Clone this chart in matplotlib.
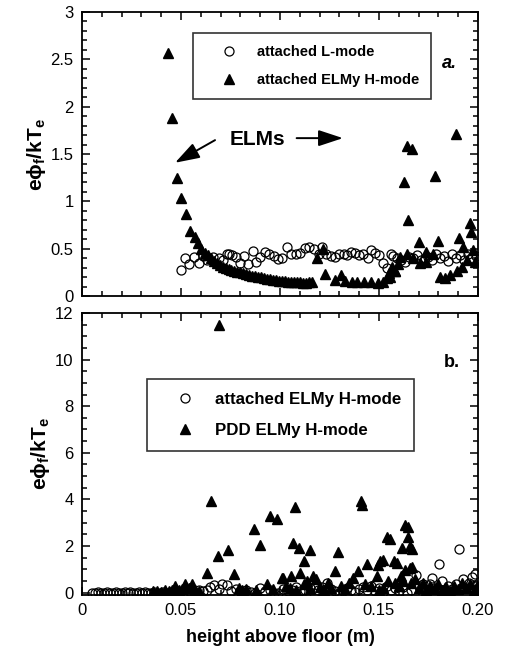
import numpy as np
import matplotlib
matplotlib.use("Agg")
import matplotlib.pyplot as plt
from matplotlib.ticker import MultipleLocator, FixedLocator, FixedFormatter

plt.rcParams['font.family'] = ['Liberation Sans', 'DejaVu Sans']
plt.rcParams['mathtext.fontset'] = 'custom'
plt.rcParams['mathtext.rm'] = 'Liberation Sans'
plt.rcParams['mathtext.bf'] = 'Liberation Sans:bold'
plt.rcParams['mathtext.it'] = 'Liberation Sans:italic'

# ---- panel a: attached L-mode (open circles)
a_circ_x = [0.050, 0.052, 0.054, 0.0565, 0.059, 0.061, 0.063, 0.066, 0.069, 0.071,
            0.073, 0.074, 0.076, 0.078, 0.080, 0.082, 0.084, 0.0865, 0.088, 0.090,
            0.0925, 0.0945, 0.097, 0.099, 0.101, 0.1035, 0.1055, 0.108, 0.110, 0.1125,
            0.1145, 0.117, 0.1195, 0.121, 0.123, 0.126, 0.128, 0.130, 0.1325, 0.134,
            0.136, 0.138, 0.140, 0.142, 0.1445, 0.146, 0.148, 0.150, 0.152, 0.154,
            0.156, 0.157, 0.159, 0.161, 0.163, 0.165, 0.167, 0.169, 0.171, 0.173,
            0.175, 0.177, 0.179, 0.181, 0.183, 0.185, 0.187, 0.189, 0.191, 0.193,
            0.195, 0.197, 0.199]
a_circ_y = [0.28, 0.40, 0.34, 0.41, 0.35, 0.42, 0.38, 0.41, 0.40, 0.38,
            0.45, 0.44, 0.43, 0.41, 0.35, 0.42, 0.34, 0.48, 0.36, 0.41,
            0.47, 0.45, 0.42, 0.39, 0.40, 0.52, 0.44, 0.44, 0.46, 0.51,
            0.52, 0.50, 0.45, 0.52, 0.44, 0.42, 0.41, 0.44, 0.45, 0.43,
            0.47, 0.46, 0.43, 0.44, 0.40, 0.49, 0.46, 0.43, 0.35, 0.30,
            0.45, 0.42, 0.40, 0.38, 0.36, 0.41, 0.40, 0.43, 0.38, 0.40,
            0.41, 0.38, 0.44, 0.40, 0.42, 0.37, 0.45, 0.40, 0.43, 0.38,
            0.44, 0.40, 0.42]

# ---- panel a: attached ELMy H-mode (filled triangles)
a_tri_x = [0.0433, 0.0455, 0.048, 0.050, 0.0524, 0.0547, 0.057, 0.0585, 0.060, 0.062,
           0.0635, 0.065, 0.0665, 0.068, 0.0695, 0.071, 0.0725, 0.074, 0.0755, 0.077,
           0.0785, 0.080, 0.0815, 0.083, 0.0845, 0.086, 0.0875, 0.089, 0.0905, 0.092,
           0.0935, 0.095, 0.0965, 0.098, 0.0995, 0.101, 0.1025, 0.104, 0.1055, 0.107,
           0.1085, 0.110, 0.1115, 0.113, 0.1145, 0.116, 0.1185, 0.1215, 0.1227, 0.128,
           0.1306, 0.1328, 0.1362, 0.139, 0.1425, 0.146, 0.1495, 0.152, 0.154, 0.1556,
           0.155, 0.1564, 0.158, 0.1597, 0.1606, 0.1628, 0.1643, 0.1669, 0.1645, 0.164,
           0.1673, 0.1702, 0.1707, 0.174, 0.174, 0.1774, 0.1783, 0.1796, 0.1808, 0.1833,
           0.1859, 0.1889, 0.1892, 0.1906, 0.1918, 0.1926, 0.1943, 0.196, 0.1965, 0.1976,
           0.1985, 0.158]
a_tri_y = [2.57, 1.88, 1.25, 1.04, 0.87, 0.69, 0.62, 0.56, 0.50, 0.46,
           0.43, 0.40, 0.37, 0.35, 0.33, 0.31, 0.30, 0.29, 0.28, 0.27,
           0.26, 0.25, 0.24, 0.23, 0.22, 0.21, 0.21, 0.20, 0.20, 0.19,
           0.18, 0.18, 0.17, 0.17, 0.16, 0.16, 0.16, 0.15, 0.15, 0.15,
           0.15, 0.15, 0.14, 0.14, 0.15, 0.15, 0.40, 0.50, 0.23, 0.17,
           0.22, 0.16, 0.15, 0.15, 0.15, 0.15, 0.14, 0.15, 0.19, 0.20,
           0.24, 0.31, 0.27, 0.34, 0.41, 1.20, 1.59, 1.55, 0.80, 0.45,
           0.40, 0.57, 0.35, 0.47, 0.36, 0.45, 1.27, 0.58, 0.20, 0.19,
           0.22, 1.71, 0.27, 0.61, 0.31, 0.52, 0.38, 0.77, 0.68, 0.49,
           0.36, 0.27]

# ---- panel b: attached ELMy H-mode (open circles)
b_circ_x = [0.005, 0.0065, 0.008, 0.0095, 0.011, 0.0125, 0.014, 0.0155, 0.017, 0.0185,
            0.020, 0.0215, 0.023, 0.0245, 0.026, 0.0275, 0.029, 0.0305, 0.032, 0.0335,
            0.035, 0.0365, 0.038, 0.0395, 0.041, 0.043, 0.045, 0.048, 0.051, 0.054,
            0.0565, 0.059, 0.061, 0.063, 0.0645, 0.0665, 0.069, 0.0707, 0.0732, 0.0755,
            0.078, 0.080, 0.083, 0.0855, 0.0876, 0.090, 0.0925, 0.095, 0.097, 0.099,
            0.1015, 0.104, 0.106, 0.108, 0.110, 0.1125, 0.115, 0.117, 0.119, 0.121,
            0.1236, 0.126, 0.128, 0.130, 0.132, 0.134, 0.136, 0.138, 0.140, 0.142,
            0.144, 0.146, 0.148, 0.150, 0.152, 0.154, 0.156, 0.158, 0.160, 0.162,
            0.164, 0.166, 0.1687, 0.170, 0.172, 0.174, 0.1758, 0.1766, 0.178, 0.1803,
            0.1817, 0.183, 0.185, 0.187, 0.189, 0.1904, 0.1923, 0.194, 0.1955, 0.1968,
            0.1985, 0.199, 0.1995]
b_circ_y = [0.00, -0.02, 0.01, -0.01, 0.00, 0.02, -0.02, 0.00, 0.01, -0.01,
            0.00, 0.02, -0.01, 0.01, 0.00, -0.02, 0.01, 0.00, 0.02, -0.01,
            0.00, 0.01, -0.02, 0.00, 0.02, 0.00, 0.02, 0.05, 0.00, 0.06,
            -0.03, 0.10, 0.05, 0.12, 0.22, 0.31, 0.14, 0.38, 0.33, 0.08,
            0.15, 0.05, 0.12, 0.02, 0.00, 0.18, 0.08, 0.10, 0.00, -0.02,
            0.15, 0.05, 0.10, 0.22, 0.05, 0.12, 0.18, 0.00, 0.10, 0.25,
            0.42, 0.15, 0.08, 0.00, 0.05, 0.20, 0.10, 0.02, 0.15, 0.25,
            0.10, 0.30, 0.05, 0.18, 0.02, 0.30, 0.12, 0.20, 0.05, 0.25,
            0.00, 0.10, 0.75, 0.30, 0.35, 0.10, 0.38, 0.64, 0.20, 1.23,
            0.50, 0.10, 0.30, 0.15, 0.35, 1.86, 0.57, 0.20, 0.40, 0.66,
            0.78, 0.30, 0.15]

# ---- panel b: PDD ELMy H-mode (filled triangles)
b_tri_x = [0.036, 0.038, 0.040, 0.042, 0.0438, 0.0455, 0.0471, 0.049, 0.0505, 0.0522,
           0.054, 0.0556, 0.057, 0.059, 0.0633, 0.065, 0.0685, 0.0692, 0.0737, 0.077,
           0.0791, 0.081, 0.083, 0.0867, 0.088, 0.090, 0.0934, 0.0951, 0.0983, 0.0965,
           0.1008, 0.1017, 0.103, 0.1054, 0.1067, 0.1076, 0.1098, 0.1101, 0.1123, 0.1135,
           0.1152, 0.1165, 0.118, 0.120, 0.122, 0.124, 0.126, 0.1278, 0.1291, 0.131,
           0.133, 0.135, 0.137, 0.1396, 0.141, 0.1415, 0.1441, 0.143, 0.146, 0.1488,
           0.1497, 0.1505, 0.1522, 0.1539, 0.1547, 0.1555, 0.1576, 0.159, 0.160, 0.1615,
           0.1631, 0.1633, 0.1645, 0.1649, 0.1655, 0.1657, 0.1665, 0.1668, 0.168, 0.170,
           0.172, 0.174, 0.176, 0.178, 0.180, 0.182, 0.184, 0.186, 0.188, 0.190,
           0.192, 0.194, 0.196, 0.198, 0.1995, 0.105, 0.108, 0.112, 0.115, 0.150,
           0.152, 0.158, 0.162, 0.166, 0.161]
b_tri_y = [0.05, 0.08, 0.03, 0.10, 0.07, 0.12, 0.28, 0.10, 0.15, 0.35,
           0.20, 0.38, 0.10, 0.05, 0.85, 3.95, 1.58, 11.48, 1.81, 0.78,
           0.21, 0.10, 0.15, 2.74, 0.10, 2.05, 0.38, 3.29, 3.18, 0.15,
           0.62, 0.64, 0.30, 0.70, 2.12, 3.67, 1.93, 0.85, 1.34, 0.50,
           1.81, 0.71, 0.60, 0.25, 0.10, 0.40, 0.20, 0.92, 1.76, 0.30,
           0.15, 0.40, 0.64, 0.92, 3.95, 3.75, 1.23, 0.35, 0.30, 0.71,
           1.20, 1.34, 1.41, 2.40, 0.49, 2.30, 1.37, 1.25, 0.30, 1.90,
           0.99, 2.90, 2.80, 2.40, 2.00, 1.06, 1.85, 1.10, 0.60, 0.20,
           0.40, 0.10, 0.30, 0.15, 0.35, 0.10, 0.25, 0.05, 0.30, 0.15,
           0.40, 0.20, 0.35, 0.10, 0.30, 0.20, 0.10, 0.35, 0.15, 0.10,
           0.20, 0.40, 0.50, 0.40, 0.70]

a_yticks = [0, 0.5, 1, 1.5, 2, 2.5, 3]
a_yticklabels = ['0', '0.5', '1', '1.5', '2', '2.5', '3']
b_yticks = [0, 2, 4, 6, 8, 10, 12]
b_yticklabels = ['0', '2', '4', '6', '8', '10', '12']
xticks = [0, 0.05, 0.10, 0.15, 0.20]
xticklabels = ['0', '0.05', '0.10', '0.15', '0.20']

ylab = r'$\mathbf{e\phi_f/kT_e}$'
head = '-|>,head_length=1.0,head_width=0.33'


def style_axes(ax, yminor):
    ax.set_xlim(0, 0.2)
    ax.xaxis.set_major_locator(FixedLocator(xticks))
    ax.xaxis.set_minor_locator(MultipleLocator(0.01))
    ax.yaxis.set_minor_locator(MultipleLocator(yminor))
    ax.tick_params(which='both', direction='in', top=True, right=True, width=1.1)
    ax.tick_params(which='major', length=6, labelsize=12, pad=6)
    ax.tick_params(which='minor', length=3.5)
    for s in ax.spines.values():
        s.set_linewidth(1.3)


fig = plt.figure(figsize=(5.08, 6.64), dpi=100)
ax1 = fig.add_axes([0.1614, 0.554, 0.7795, 0.428])
ax2 = fig.add_axes([0.1614, 0.104, 0.7795, 0.4247])

# panel a
ax1.plot(a_circ_x, a_circ_y, 'o', mfc='none', mec='k', mew=0.9, ms=6.5, label='attached L-mode')
ax1.plot(a_tri_x, a_tri_y, '^', color='k', ms=6.5, label='attached ELMy H-mode')
style_axes(ax1, 0.1)
ax1.set_ylim(0, 3)
ax1.yaxis.set_major_locator(FixedLocator(a_yticks))
ax1.yaxis.set_major_formatter(FixedFormatter(a_yticklabels))
ax1.set_xticklabels([])
ax1.set_ylabel(ylab, fontsize=15, labelpad=2)
leg1 = ax1.legend(loc='upper left', bbox_to_anchor=(0.28, 0.926), borderaxespad=0,
                  frameon=True, fancybox=False, edgecolor='k',
                  prop={'weight': 'bold', 'size': 10.5},
                  handletextpad=0.3, borderpad=0.8, labelspacing=1.0, handlelength=3.3)
leg1.get_frame().set_linewidth(1.2)
ax1.text(0.929, 0.817, 'a.', transform=ax1.transAxes, fontsize=13, fontweight='bold',
         style='italic', ha='center', va='center')
ax1.text(0.0884, 1.65, 'ELMs', fontsize=15, fontweight='bold', ha='center', va='center')
ax1.annotate('', xy=(0.047, 1.408), xytext=(0.0672, 1.647),
             arrowprops=dict(arrowstyle=head, color='k', lw=1.4, mutation_scale=15,
                             shrinkA=0, shrinkB=0))
ax1.annotate('', xy=(0.1318, 1.668), xytext=(0.1084, 1.668),
             arrowprops=dict(arrowstyle=head, color='k', lw=1.4, mutation_scale=15,
                             shrinkA=0, shrinkB=0))

# panel b
ax2.plot(b_circ_x, b_circ_y, 'o', mfc='none', mec='k', mew=0.9, ms=6.5, label='attached ELMy H-mode')
ax2.plot(b_tri_x, b_tri_y, '^', color='k', ms=6.5, label='PDD ELMy H-mode')
style_axes(ax2, 0.5)
ax2.set_ylim(-0.1, 12)
ax2.yaxis.set_major_locator(FixedLocator(b_yticks))
ax2.yaxis.set_major_formatter(FixedFormatter(b_yticklabels))
ax2.xaxis.set_major_formatter(FixedFormatter(xticklabels))
ax2.set_ylabel(ylab, fontsize=15, labelpad=2)
ax2.set_xlabel('height above floor (m)', fontsize=13, fontweight='bold', labelpad=8)
leg2 = ax2.legend(loc='upper left', bbox_to_anchor=(0.163, 0.765), borderaxespad=0,
                  frameon=True, fancybox=False, edgecolor='k',
                  prop={'weight': 'bold', 'size': 12.2},
                  handletextpad=0.28, borderpad=0.75, labelspacing=0.95, handlelength=3.0)
leg2.get_frame().set_linewidth(1.2)
ax2.text(0.934, 0.823, 'b.', transform=ax2.transAxes, fontsize=13, fontweight='bold',
         ha='center', va='center')

fig.savefig('out.png', dpi=100)
